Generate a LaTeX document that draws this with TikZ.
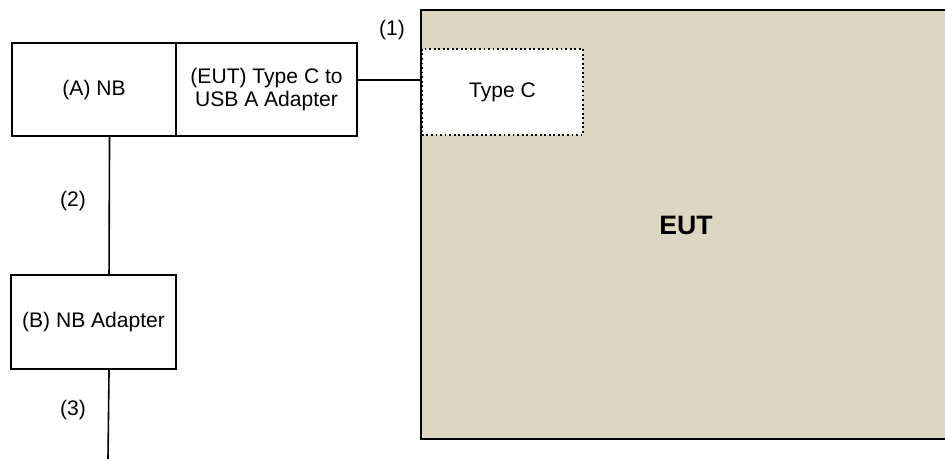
\documentclass[tikz,border=0pt]{standalone}
\usepackage{fontspec}
\setmainfont{Liberation Sans}
\definecolor{eutfill}{RGB}{221,215,193}
\begin{document}
\begin{tikzpicture}[x=0.75pt,y=-0.75pt,
  every node/.style={font=\fontsize{15.8}{16.8}\selectfont},
  boxa/.style={draw=black,line width=1.6pt,fill=white,inner sep=0pt,align=center},
  conn/.style={draw=black,line width=1.2pt},
  lbl/.style={inner sep=0pt}]
\useasboundingbox (0,0) rectangle (945,459);
% EUT
\fill[eutfill] (421,10) rectangle (960,439);
\draw[line width=1.9pt] (960,10) -- (421,10) -- (421,439) -- (960,439);
\node[lbl,font=\fontsize{20}{22}\selectfont\bfseries] (eut) at (686,225) {EUT};
% Type C
\node[draw=black,dotted,line width=1.4pt,fill=white,inner sep=0pt,
  minimum width=161*0.75pt,minimum height=86*0.75pt,anchor=north west] (typec) at (421,48) {Type C};
% A NB
\node[boxa,minimum width=164*0.75pt,minimum height=93*0.75pt,anchor=north west] (nb) at (11,42) {(A) NB};
\node[boxa,minimum width=181*0.75pt,minimum height=93*0.75pt,anchor=north west] (adp) at (175,42) {(EUT) Type C to\\USB A Adapter};
% B NB Adapter
\node[boxa,minimum width=165*0.75pt,minimum height=94*0.75pt,anchor=north west] (nbad) at (10,274) {(B) NB Adapter};
\coordinate (end3) at (108,459);
% connectors
\draw[conn] ([yshift=7pt]adp.east) -- ([yshift=7pt]adp.east -| typec.west);
\draw[conn] ([xshift=11.6pt]nb.south) -- ([xshift=11.6pt]nbad.north);
\draw[conn] ([xshift=11.6pt]nbad.south) -- (end3);
% labels
\node[lbl] (l1) at (392,30) {(1)};
\node[lbl] (l2) at (73,201) {(2)};
\node[lbl] (l3) at (73,410) {(3)};
\end{tikzpicture}
\end{document}
